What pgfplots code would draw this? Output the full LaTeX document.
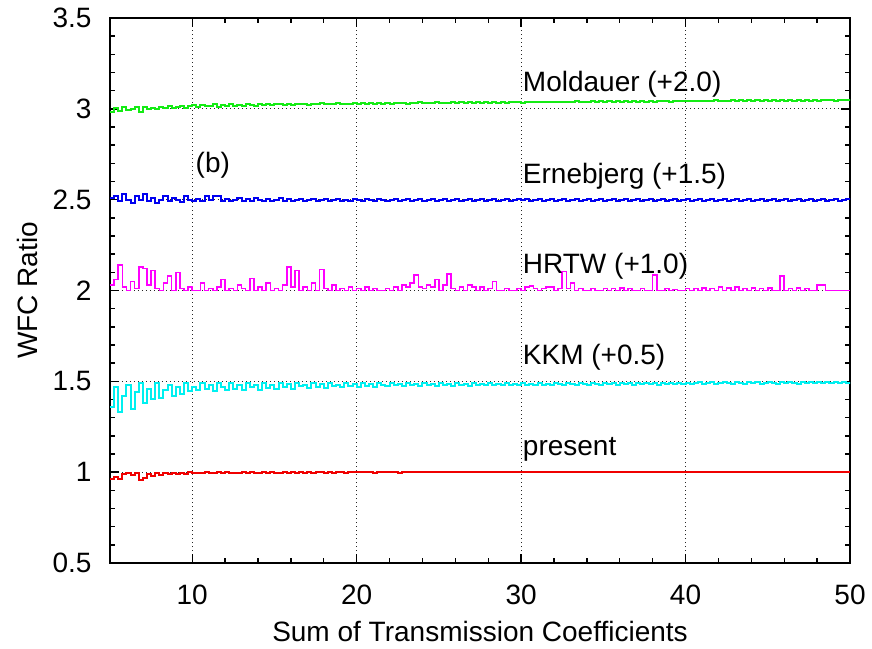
\documentclass[border=0pt]{standalone}
\usepackage{pgfplots}
\usepackage{pgfplotstable}
\pgfplotsset{compat=1.18}
\usepackage{fontspec}
\setmainfont{Liberation Sans}
\definecolor{mgreen}{RGB}{20,235,20}
\definecolor{mcyan}{RGB}{0,240,240}
\definecolor{mmag}{RGB}{255,0,255}
\definecolor{mblue}{RGB}{0,0,240}
\definecolor{mred}{RGB}{240,0,0}
\pgfplotstableread{
x r k h e m
5.00 0.965 1.36 2.03 2.51 2.985
5.25 0.975 1.47 2.06 2.52 3.005
5.50 0.960 1.33 2.14 2.49 2.990
5.75 0.990 1.42 2.02 2.53 3.010
6.00 0.998 1.48 2.00 2.50 2.995
6.25 0.985 1.35 2.05 2.48 3.000
6.50 0.995 1.44 2.01 2.52 3.008
6.75 0.955 1.49 2.13 2.50 2.985
7.00 0.970 1.38 2.12 2.53 3.012
7.25 0.992 1.46 2.03 2.49 2.998
7.50 0.980 1.40 2.11 2.51 3.006
7.75 0.997 1.49 2.01 2.48 3.000
8.00 0.985 1.41 2.00 2.50 3.012
8.25 0.995 1.45 2.04 2.52 3.004
8.50 0.990 1.48 2.08 2.49 3.015
8.75 0.998 1.42 2.00 2.51 3.002
9.00 0.988 1.47 2.10 2.50 3.010
9.25 0.996 1.43 2.01 2.485 3.018
9.50 0.992 1.49 2.00 2.52 3.006
9.75 0.999 1.445 2.02 2.50 3.014
10.00 0.994 1.47 2.00 2.49 3.020
10.25 0.998 1.45 2.00 2.505 3.010
10.50 0.996 1.49 2.04 2.495 3.022
10.75 1.000 1.46 2.00 2.52 3.014
11.00 0.997 1.48 2.01 2.50 3.018
11.25 0.993 1.445 2.00 2.52 3.025
11.50 0.999 1.49 2.02 2.52 3.012
11.75 0.996 1.47 2.06 2.495 3.020
12.00 1.000 1.455 2.00 2.505 3.016
12.25 0.995 1.49 2.01 2.49 3.024
12.50 0.998 1.46 2.00 2.50 3.018
12.75 0.996 1.48 2.03 2.51 3.022
13.00 0.999 1.45 2.01 2.495 3.015
13.25 0.997 1.49 2.00 2.505 3.026
13.50 1.000 1.47 2.065 2.49 3.020
13.75 0.996 1.48 2.00 2.51 3.017
14.00 0.998 1.455 2.02 2.50 3.025
14.25 0.999 1.49 2.00 2.495 3.021
14.50 0.997 1.465 2.04 2.505 3.027
14.75 1.000 1.48 2.00 2.49 3.019
15.00 0.998 1.46 2.01 2.50 3.024
15.25 0.996 1.49 2.00 2.51 3.028
15.50 1.000 1.47 2.03 2.495 3.022
15.75 0.998 1.485 2.13 2.505 3.026
16.00 0.999 1.46 2.02 2.49 3.020
16.25 0.997 1.49 2.11 2.50 3.027
16.50 1.000 1.475 2.00 2.505 3.024
16.75 0.998 1.48 2.02 2.495 3.029
17.00 0.999 1.465 2.00 2.50 3.022
17.25 0.997 1.49 2.04 2.505 3.027
17.50 1.000 1.47 2.00 2.49 3.025
17.75 0.999 1.485 2.115 2.50 3.030
18.00 0.998 1.465 2.01 2.505 3.024
18.25 1.000 1.49 2.00 2.495 3.028
18.50 0.998 1.475 2.03 2.50 3.026
18.75 0.999 1.48 2.00 2.505 3.031
19.00 1.000 1.47 2.01 2.495 3.025
19.25 0.998 1.49 2.00 2.50 3.029
19.50 0.999 1.475 2.02 2.49 3.027
19.75 1.000 1.485 2.00 2.505 3.031
20.00 0.999 1.47 2.01 2.50 3.026
20.25 1.000 1.49 2.00 2.495 3.030
20.50 0.999 1.475 2.02 2.505 3.027
20.75 1.000 1.485 2.00 2.50 3.032
21.00 0.998 1.47 2.01 2.495 3.028
21.25 1.000 1.49 2.00 2.505 3.031
21.50 0.999 1.48 2.00 2.50 3.029
21.75 1.000 1.475 2.01 2.495 3.033
22.00 0.999 1.49 2.00 2.50 3.028
22.25 1.000 1.48 2.02 2.505 3.032
22.50 0.998 1.485 2.00 2.495 3.030
22.75 1.000 1.475 2.03 2.50 3.034
23.00 0.999 1.49 2.02 2.505 3.029
23.25 1.000 1.48 2.04 2.495 3.033
23.50 0.999 1.485 2.085 2.50 3.031
23.75 1.000 1.475 2.02 2.505 3.035
24.00 0.999 1.49 2.01 2.495 3.030
24.25 1.000 1.48 2.03 2.50 3.034
24.50 0.999 1.485 2.02 2.505 3.032
24.75 1.000 1.475 2.06 2.495 3.035
25.00 0.999 1.49 2.00 2.50 3.031
25.25 1.000 1.48 2.03 2.505 3.034
25.50 0.999 1.485 2.09 2.495 3.032
25.75 1.000 1.475 2.01 2.50 3.036
26.00 0.999 1.49 2.00 2.505 3.032
26.25 1.000 1.48 2.02 2.495 3.035
26.50 0.999 1.485 2.00 2.50 3.033
26.75 1.000 1.475 2.03 2.505 3.037
27.00 0.999 1.49 2.02 2.495 3.032
27.25 1.000 1.48 2.00 2.50 3.036
27.50 0.999 1.485 2.02 2.505 3.034
27.75 1.000 1.48 2.00 2.495 3.037
28.00 0.999 1.49 2.01 2.50 3.033
28.25 1.000 1.48 2.05 2.505 3.036
28.50 0.999 1.485 2.00 2.495 3.034
28.75 1.000 1.48 2.00 2.50 3.038
29.00 0.999 1.49 2.01 2.505 3.033
29.25 1.000 1.48 2.00 2.495 3.037
29.50 0.999 1.485 2.00 2.50 3.035
29.75 1.000 1.48 2.01 2.505 3.038
30.00 0.999 1.49 2.00 2.50 3.034
30.25 1.000 1.48 2.02 2.505 3.038
30.50 0.999 1.485 2.025 2.495 3.035
30.75 1.000 1.48 2.01 2.50 3.039
31.00 0.999 1.49 2.00 2.505 3.036
31.25 1.000 1.48 2.01 2.495 3.040
31.50 0.999 1.485 2.02 2.50 3.036
31.75 1.000 1.48 2.02 2.505 3.039
32.00 0.999 1.49 2.00 2.495 3.037
32.25 1.000 1.485 2.01 2.50 3.040
32.50 0.999 1.48 2.105 2.505 3.036
32.75 1.000 1.49 2.01 2.495 3.040
33.00 0.999 1.485 2.04 2.50 3.037
33.25 1.000 1.48 2.00 2.505 3.041
33.50 0.999 1.49 2.01 2.495 3.037
33.75 1.000 1.485 2.00 2.50 3.040
34.00 0.999 1.48 2.00 2.505 3.038
34.25 1.000 1.49 2.01 2.495 3.041
34.50 0.999 1.485 2.00 2.50 3.038
34.75 1.000 1.48 2.00 2.505 3.042
35.00 0.999 1.49 2.01 2.495 3.038
35.25 1.000 1.485 2.00 2.50 3.041
35.50 0.999 1.49 2.01 2.505 3.039
35.75 1.000 1.48 2.00 2.495 3.042
36.00 0.999 1.49 2.015 2.50 3.039
36.25 1.000 1.485 2.00 2.505 3.042
36.50 0.999 1.49 2.01 2.495 3.040
36.75 1.000 1.48 2.00 2.50 3.043
37.00 0.999 1.49 2.00 2.505 3.039
37.25 1.000 1.485 2.01 2.495 3.042
37.50 0.999 1.49 2.00 2.50 3.040
37.75 1.000 1.485 2.00 2.505 3.043
38.00 0.999 1.49 2.085 2.495 3.040
38.25 1.000 1.48 2.00 2.50 3.043
38.50 0.999 1.49 2.00 2.505 3.041
38.75 1.000 1.485 2.01 2.495 3.044
39.00 0.999 1.49 2.00 2.50 3.040
39.25 1.000 1.485 2.005 2.505 3.043
39.50 0.999 1.49 2.00 2.495 3.041
39.75 1.000 1.485 2.00 2.50 3.044
40.00 0.999 1.49 2.01 2.505 3.041
40.25 1.000 1.485 2.00 2.495 3.044
40.50 0.999 1.49 2.01 2.50 3.042
40.75 1.000 1.495 2.00 2.505 3.045
41.00 0.999 1.485 2.015 2.495 3.042
41.25 1.000 1.49 2.00 2.50 3.045
41.50 0.999 1.495 2.01 2.505 3.043
41.75 1.000 1.485 2.00 2.495 3.046
42.00 0.999 1.49 2.02 2.50 3.042
42.25 1.000 1.495 2.00 2.505 3.045
42.50 0.999 1.49 2.015 2.495 3.043
42.75 1.000 1.485 2.00 2.50 3.046
43.00 0.999 1.495 2.02 2.505 3.043
43.25 1.000 1.49 2.00 2.495 3.046
43.50 0.999 1.485 2.01 2.50 3.044
43.75 1.000 1.495 2.00 2.505 3.047
44.00 0.999 1.49 2.015 2.495 3.043
44.25 1.000 1.495 2.00 2.50 3.046
44.50 0.999 1.485 2.01 2.505 3.044
44.75 1.000 1.49 2.00 2.495 3.047
45.00 0.999 1.495 2.015 2.50 3.044
45.25 1.000 1.49 2.00 2.505 3.047
45.50 0.999 1.485 2.00 2.495 3.045
45.75 1.000 1.495 2.08 2.50 3.047
46.00 0.999 1.49 2.00 2.505 3.044
46.25 1.000 1.495 2.01 2.495 3.047
46.50 0.999 1.49 2.00 2.50 3.045
46.75 1.000 1.485 2.015 2.505 3.048
47.00 0.999 1.495 2.00 2.495 3.045
47.25 1.000 1.49 2.01 2.50 3.047
47.50 0.999 1.495 2.00 2.505 3.045
47.75 1.000 1.49 2.00 2.495 3.048
48.00 0.999 1.495 2.03 2.50 3.045
48.25 1.000 1.49 2.03 2.505 3.047
48.50 0.999 1.495 2.00 2.495 3.046
48.75 1.000 1.49 2.00 2.50 3.048
49.00 0.999 1.495 2.00 2.505 3.045
49.25 1.000 1.49 2.00 2.495 3.048
49.50 0.999 1.495 2.00 2.50 3.046
49.75 1.000 1.49 2.00 2.505 3.048
50.00 1.000 1.495 2.00 2.50 3.047
}\wfcdata
\begin{document}
\fontsize{28bp}{33bp}\selectfont
\begin{tikzpicture}
\begin{axis}[
  scale only axis,
  width=740bp, height=545bp,
  xmin=5, xmax=50, ymin=0.5, ymax=3.5,
  xtick={10,20,30,40,50},
  ytick={0.5,1,1.5,2,2.5,3,3.5},
  yticklabels={0.5,1,1.5,2,2.5,3,3.5},
  minor x tick num=4,
  minor y tick num=4,
  tickwidth=9bp,
  subtickwidth=5bp,
  every tick/.append style={black, line width=1.4bp},
  axis line style={line width=1.6bp},
  xmajorgrids=true, ymajorgrids=true,
  major grid style={black!85, line width=0.9bp, dash pattern=on 1.2bp off 2.8bp},
  tick label style={font=\fontsize{28bp}{33bp}\selectfont},
  label style={font=\fontsize{28bp}{33bp}\selectfont},
  /pgf/number format/assume math mode=true,
  xticklabel style={yshift=-12bp},
  yticklabel style={xshift=-9bp},
  xlabel={Sum of Transmission Coefficients},
  ylabel={WFC Ratio},
  xlabel style={inner sep=0pt, yshift=-7bp},
  ylabel style={yshift=-4bp},
]
\addplot[const plot, mgreen, line width=2bp] table[x=x,y=m] {\wfcdata};
\addplot[const plot, mblue, line width=2bp] table[x=x,y=e] {\wfcdata};
\addplot[const plot, mmag, line width=1.6bp] table[x=x,y=h] {\wfcdata};
\addplot[const plot, mcyan, line width=2bp] table[x=x,y=k] {\wfcdata};
\addplot[const plot, mred, line width=2bp] table[x=x,y=r] {\wfcdata};
\node[anchor=base west, inner sep=0pt, font=\fontsize{28bp}{33bp}\selectfont] at (axis cs:30.1,3.093) {Moldauer (+2.0)};
\node[anchor=base west, inner sep=0pt, font=\fontsize{28bp}{33bp}\selectfont] at (axis cs:30.1,2.590) {Ernebjerg (+1.5)};
\node[anchor=base west, inner sep=0pt, font=\fontsize{28bp}{33bp}\selectfont] at (axis cs:30.1,2.093) {HRTW (+1.0)};
\node[anchor=base west, inner sep=0pt, font=\fontsize{28bp}{33bp}\selectfont] at (axis cs:30.1,1.590) {KKM (+0.5)};
\node[anchor=base west, inner sep=0pt, font=\fontsize{28bp}{33bp}\selectfont] at (axis cs:30.1,1.094) {present};
\node[anchor=base west, inner sep=0pt, font=\fontsize{28bp}{33bp}\selectfont] at (axis cs:10.2,2.647) {(b)};
\coordinate (sw) at (rel axis cs:0,0);
\end{axis}
\pgfresetboundingbox
\path (sw) ++(-110bp,-86bp) rectangle ++(872bp,649bp);
\end{tikzpicture}
\end{document}
